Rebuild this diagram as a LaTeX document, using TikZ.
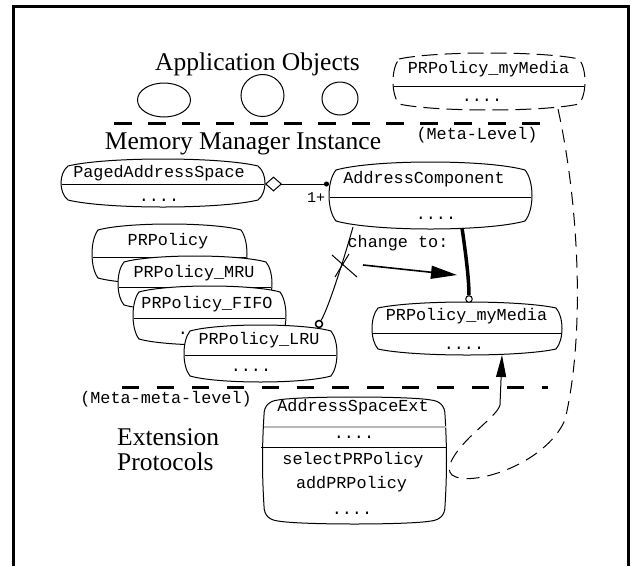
\documentclass[tikz,border=0pt]{standalone}
\usepackage{fontspec}
\setmainfont{Liberation Serif}
\setmonofont{Liberation Mono}
\usetikzlibrary{calc,arrows.meta,shapes.geometric}

\newcommand\fTB{0.2}
\newcommand\fLR{0.22}
% pillow-shaped class box made of four arcs: #2 node, #3 top/bottom arch, #4 side bulge
\newcommand\ushape[4][]{%
 \coordinate (#2-tl) at ($(#2.north west)+(#4,#3)$);
 \coordinate (#2-tr) at ($(#2.north east)+(-#4,#3)$);
 \coordinate (#2-br) at ($(#2.south east)+(-#4,-#3)$);
 \coordinate (#2-bl) at ($(#2.south west)+(#4,-#3)$);
 \path[#1] (#2-tl)
  .. controls ($(#2-tl)!\fTB!(#2-tr)+(0,-4*#3/3)$) and ($(#2-tl)!1-\fTB!(#2-tr)+(0,-4*#3/3)$) .. (#2-tr)
  .. controls ($(#2-tr)!\fLR!(#2-br)+(4*#4/3,0)$) and ($(#2-tr)!1-\fLR!(#2-br)+(4*#4/3,0)$) .. (#2-br)
  .. controls ($(#2-br)!\fTB!(#2-bl)+(0,4*#3/3)$) and ($(#2-br)!1-\fTB!(#2-bl)+(0,4*#3/3)$) .. (#2-bl)
  .. controls ($(#2-bl)!\fLR!(#2-tl)+(-4*#4/3,0)$) and ($(#2-bl)!1-\fLR!(#2-tl)+(-4*#4/3,0)$) .. cycle;}
% tall box: rounded corners, arched top and bottom
\newcommand\Rr{15}
\newcommand\Bb{4}
\newcommand\tshape[2][]{%
 \path[#1] ($(#2.north west)+(\Rr,\Bb)$)
 .. controls ($(#2.north west)+(\Rr+22,0)$) and ($(#2.north east)+(-\Rr-22,0)$) .. ($(#2.north east)+(-\Rr,\Bb)$)
 .. controls ($(#2.north east)+(-0.4*\Rr,\Bb+1)$) and ($(#2.north east)+(-1,\Bb+0.4*\Rr)$) .. ($(#2.north east)+(-1,\Bb+\Rr)$)
 .. controls ($(#2.north east)!0.4!(#2.south east)+(1,0)$) and ($(#2.north east)!0.6!(#2.south east)+(1,0)$) .. ($(#2.south east)+(-1,-\Bb-\Rr)$)
 .. controls ($(#2.south east)+(-1,-\Bb-0.4*\Rr)$) and ($(#2.south east)+(-0.4*\Rr,-\Bb-1)$) .. ($(#2.south east)+(-\Rr,-\Bb)$)
 .. controls ($(#2.south east)+(-\Rr-22,0)$) and ($(#2.south west)+(\Rr+22,0)$) .. ($(#2.south west)+(\Rr,-\Bb)$)
 .. controls ($(#2.south west)+(0.4*\Rr,-\Bb-1)$) and ($(#2.south west)+(1,-\Bb-0.4*\Rr)$) .. ($(#2.south west)+(1,-\Bb-\Rr)$)
 .. controls ($(#2.south west)!0.4!(#2.north west)+(-1,0)$) and ($(#2.south west)!0.6!(#2.north west)+(-1,0)$) .. ($(#2.north west)+(1,\Bb+\Rr)$)
 .. controls ($(#2.north west)+(1,\Bb+0.4*\Rr)$) and ($(#2.north west)+(0.4*\Rr,\Bb+1)$) .. cycle;}
\newcommand\bnode[5]{\node[boxn, minimum width={(#4-#2)*1pt}, minimum height={(#5-#3)*1pt}] (#1) at ({(#2+#4)/2},{(#3+#5)/2}) {};}
\newcommand\divline[2]{\draw[line width=1pt] ($(#1.north west)+(0.6,#2)$) -- ($(#1.north east)+(-0.6,#2)$);}

\tikzset{
  boxn/.style={draw=none, rectangle, inner sep=0pt, outer sep=0pt},
  boxline/.style={draw, fill=white, line width=1pt},
  mono/.style={font=\ttfamily\fontsize{16.8pt}{20pt}\selectfont, inner sep=0pt, anchor=mid},
  monodots/.style={font=\ttfamily\fontsize{16.8pt}{20pt}\selectfont, inner sep=0pt, anchor=base},
  big/.style={font=\fontsize{25.5pt}{28pt}\selectfont, inner sep=0pt, anchor=base},
  obj/.style={ellipse, draw, line width=1pt, inner sep=0pt},
  levelline/.style={line width=3pt},
  dline/.style={line width=1pt, dash pattern=on 13pt off 8pt},
  smallc/.style={circle, draw, fill=white, inner sep=0pt},
}

\begin{document}
\begin{tikzpicture}[x=1pt,y=-1pt]
\useasboundingbox (0,0) rectangle (633,566);
\fill[white] (0,0) rectangle (633,566);
% frame
\draw[line width=3pt] (13,566) -- (13,6) -- (628,6) -- (628,566);

% level separators
\draw[levelline, dash pattern=on 18pt off 16pt] (114,123) -- (541,123);
\draw[levelline, dash pattern=on 17pt off 18pt] (122,387) -- (548,387);

% labels
\node[big] (tapp) at (257.5,70) {Application Objects};
\node[big] (tmmi) at (243,149) {Memory Manager Instance};
\node[big, anchor=base west] (text1) at (117,445) {Extension};
\node[big, anchor=base west] (text2) at (117,470) {Protocols};
\node[mono] (tml) at (477,137) {(Meta-Level)};
\node[mono] (tmml) at (166,401) {(Meta-meta-level)};

% application objects
\node[obj, minimum width=53pt, minimum height=34pt] (o1) at (164,100) {};
\node[obj, minimum width=43pt, minimum height=42pt] (o2) at (262.5,95.5) {};
\node[obj, minimum width=36pt, minimum height=33pt] (o3) at (340,98.5) {};

% box nodes
\bnode{mm0}{393}{53}{585}{110}
\bnode{pas}{61}{159}{265}{207}
\bnode{ac}{329}{162}{532}{229}
\bnode{p0}{92}{224}{247}{284}
\bnode{p1}{118}{256}{272}{311}
\bnode{p2}{133}{286}{286}{345}
\bnode{p3}{184}{325}{337}{382}
\bnode{mm}{372}{302}{562}{355}
\bnode{ext}{263}{396}{446}{525}

% dashed PRPolicy_myMedia
\ushape[draw, line width=1pt, dash pattern=on 16pt off 7pt]{mm0}{6}{6}
\draw[line width=1pt] ($(mm0.north west)+(0.6,33)$) -- ($(mm0.north east)+(-0.6,33)$);
\node[mono] (tmm0) at (488.5,71) {PRPolicy\_myMedia};
\node[monodots] (dmm0) at (482,101) {....};

% PagedAddressSpace
\ushape[boxline]{pas}{7}{7}
\divline{pas}{25}
\node[mono] (tpas) at (159,175) {PagedAddressSpace};
\node[monodots] (dpas) at (159,201) {....};

% AddressComponent
\ushape[boxline]{ac}{8}{7}
\divline{ac}{35}
\node[mono] (tac) at (424,181) {AddressComponent};
\node[monodots] (dac) at (436,219) {....};

% stacked policies
\ushape[boxline]{p0}{6}{6}
\divline{p0}{33}
\node[mono] (tp0) at (168,243) {PRPolicy};
\ushape[boxline]{p1}{6}{6}
\divline{p1}{31}
\node[mono] (tp1) at (194,275) {PRPolicy\_MRU};
\ushape[boxline]{p2}{6}{6}
\divline{p2}{32}
\node[mono] (tp2) at (207,306) {PRPolicy\_FIFO};
\node[monodots] (dp2) at (183,334) {.};
\ushape[boxline]{p3}{6}{6}
\divline{p3}{30}
\node[mono] (tp3) at (259,342) {PRPolicy\_LRU};
\node[monodots] (dp3) at (251,371) {....};

% PRPolicy_myMedia
\ushape[boxline]{mm}{6}{6}
\divline{mm}{31}
\node[mono] (tmm) at (466.5,318) {PRPolicy\_myMedia};
\node[monodots] (dmm) at (464,349) {....};

% AddressSpaceExt
\tshape[boxline]{ext}
\draw[gray!55, line width=1.6pt] ($(ext.north west)+(0.5,31)$) -- ($(ext.north east)+(-0.5,31)$);
\draw[line width=1pt] ($(ext.north west)+(-2,51)$) -- ($(ext.north east)+(0,51)$);
\node[mono] (te1) at (353,409) {AddressSpaceExt};
\node[monodots] (de1) at (354,438) {....};
\node[mono] (te2) at (353,462) {selectPRPolicy};
\node[mono] (te3) at (351.5,486) {addPRPolicy};
\node[monodots] (de2) at (352,514) {....};

% aggregation PagedAddressSpace -> AddressComponent
\draw[line width=1pt, {Diamond[open, fill=white, length=17pt, width=15pt]}-{Circle[length=5pt]}] ($(pas.east)+(0,1)$) -- ($(pas.east -| ac.west)+(0,1)$);
\node[font=\ttfamily\fontsize{15pt}{18pt}\selectfont, inner sep=0pt, anchor=mid] (t1p) at (316,200) {1+};

% old link LRU -> AddressComponent (crossed out)
\node[smallc, minimum size=7pt, line width=1.5pt] (c3) at (319,324) {};
\draw[line width=1pt] (c3) .. controls (330,305) and (348,245) .. ($(ac.south west)+(24,-2)$);
\coordinate (x1a) at (332,255); \coordinate (x1b) at (357,277);
\coordinate (x2a) at (349,254); \coordinate (x2b) at (335,277);
\draw[line width=1pt] (x1a) -- (x1b);
\draw[line width=1pt] (x2a) -- (x2b);

% change to
\node[mono] (tch) at (398,245) {change to:};
\coordinate (ch1) at (363,265); \coordinate (ch2) at (457,275);
\draw[line width=1.6pt, -{Triangle[length=26pt, width=13pt]}] (ch1) -- (ch2);

% new link AddressComponent -> PRPolicy_myMedia
\node[smallc, minimum size=6.5pt, line width=1pt] (c4) at (469,299) {};
\draw[line width=3.5pt] ($(ac.south west)+(133,-1)$) .. controls (466,255) and (469,280) .. (c4);

% dashed install curve
\coordinate (dc1) at (500,405);
\draw[dline] ($(mm0.south east)+(-27,-1)$) .. controls (578,200) and (586,330) .. (565,420)
  .. controls (545,465) and (470,488) .. (452,475)
  .. controls (444,468) and (455,452) .. (470,437)
  .. controls (488,420) and (498,412) .. (dc1);
\draw[line width=1pt, -{Triangle[length=22pt, width=10pt]}] (dc1) -- ($(mm.south west)+(130,0)$);
\end{tikzpicture}
\end{document}
